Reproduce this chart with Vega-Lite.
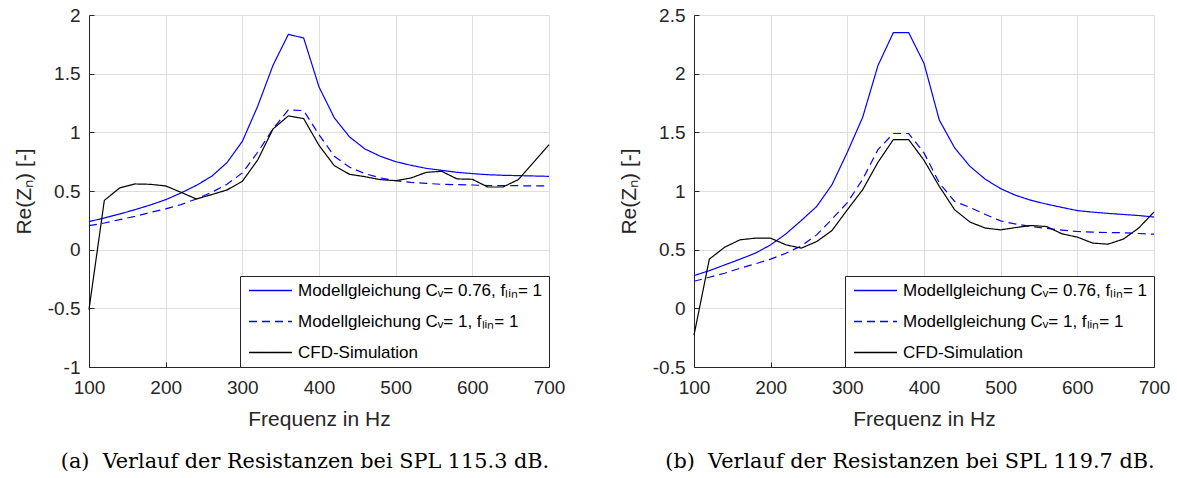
{
  "$schema": "https://vega.github.io/schema/vega-lite/v6.json",
  "background": "white",
  "padding": {"left": 13, "top": 6, "right": 0, "bottom": 0},
  "datasets": {
    "names": [
      {"s": "m076", "label": "Modellgleichung Cᵥ= 0.76, fₗᵢₙ= 1"},
      {"s": "m1", "label": "Modellgleichung Cᵥ= 1, fₗᵢₙ= 1"},
      {"s": "cfd", "label": "CFD-Simulation"}
    ],
    "a": [
      {"f": 100, "m076": 0.239, "m1": 0.205, "cfd": -0.51},
      {"f": 120, "m076": 0.270, "m1": 0.227, "cfd": 0.420},
      {"f": 140, "m076": 0.304, "m1": 0.256, "cfd": 0.526},
      {"f": 160, "m076": 0.341, "m1": 0.284, "cfd": 0.560},
      {"f": 180, "m076": 0.381, "m1": 0.318, "cfd": 0.557},
      {"f": 200, "m076": 0.426, "m1": 0.347, "cfd": 0.543},
      {"f": 220, "m076": 0.483, "m1": 0.384, "cfd": 0.489},
      {"f": 240, "m076": 0.548, "m1": 0.432, "cfd": 0.432},
      {"f": 260, "m076": 0.625, "m1": 0.489, "cfd": 0.469},
      {"f": 280, "m076": 0.742, "m1": 0.557, "cfd": 0.509},
      {"f": 300, "m076": 0.923, "m1": 0.654, "cfd": 0.582},
      {"f": 320, "m076": 1.222, "m1": 0.830, "cfd": 0.764},
      {"f": 340, "m076": 1.571, "m1": 1.029, "cfd": 1.029},
      {"f": 360, "m076": 1.835, "m1": 1.191, "cfd": 1.140},
      {"f": 380, "m076": 1.804, "m1": 1.185, "cfd": 1.117},
      {"f": 400, "m076": 1.387, "m1": 0.980, "cfd": 0.889},
      {"f": 420, "m076": 1.123, "m1": 0.796, "cfd": 0.716},
      {"f": 440, "m076": 0.960, "m1": 0.702, "cfd": 0.642},
      {"f": 460, "m076": 0.858, "m1": 0.648, "cfd": 0.622},
      {"f": 480, "m076": 0.796, "m1": 0.611, "cfd": 0.597},
      {"f": 500, "m076": 0.750, "m1": 0.588, "cfd": 0.588},
      {"f": 520, "m076": 0.719, "m1": 0.574, "cfd": 0.611},
      {"f": 540, "m076": 0.693, "m1": 0.565, "cfd": 0.659},
      {"f": 560, "m076": 0.676, "m1": 0.557, "cfd": 0.668},
      {"f": 580, "m076": 0.659, "m1": 0.554, "cfd": 0.603},
      {"f": 600, "m076": 0.648, "m1": 0.551, "cfd": 0.600},
      {"f": 620, "m076": 0.639, "m1": 0.547, "cfd": 0.534},
      {"f": 640, "m076": 0.634, "m1": 0.545, "cfd": 0.534},
      {"f": 660, "m076": 0.631, "m1": 0.545, "cfd": 0.597},
      {"f": 680, "m076": 0.628, "m1": 0.543, "cfd": 0.745},
      {"f": 700, "m076": 0.625, "m1": 0.543, "cfd": 0.895}
    ],
    "b": [
      {"f": 100, "m076": 0.279, "m1": 0.231, "cfd": -0.228},
      {"f": 120, "m076": 0.321, "m1": 0.265, "cfd": 0.419},
      {"f": 140, "m076": 0.370, "m1": 0.299, "cfd": 0.521},
      {"f": 160, "m076": 0.419, "m1": 0.342, "cfd": 0.584},
      {"f": 180, "m076": 0.470, "m1": 0.379, "cfd": 0.598},
      {"f": 200, "m076": 0.541, "m1": 0.419, "cfd": 0.598},
      {"f": 220, "m076": 0.635, "m1": 0.470, "cfd": 0.541},
      {"f": 240, "m076": 0.749, "m1": 0.532, "cfd": 0.513},
      {"f": 260, "m076": 0.868, "m1": 0.626, "cfd": 0.569},
      {"f": 280, "m076": 1.054, "m1": 0.761, "cfd": 0.663},
      {"f": 300, "m076": 1.330, "m1": 0.900, "cfd": 0.840},
      {"f": 320, "m076": 1.628, "m1": 1.100, "cfd": 1.011},
      {"f": 340, "m076": 2.070, "m1": 1.353, "cfd": 1.245},
      {"f": 360, "m076": 2.350, "m1": 1.490, "cfd": 1.438},
      {"f": 380, "m076": 2.350, "m1": 1.490, "cfd": 1.438},
      {"f": 400, "m076": 2.088, "m1": 1.325, "cfd": 1.262},
      {"f": 420, "m076": 1.604, "m1": 1.068, "cfd": 1.039},
      {"f": 440, "m076": 1.367, "m1": 0.911, "cfd": 0.840},
      {"f": 460, "m076": 1.210, "m1": 0.860, "cfd": 0.735},
      {"f": 480, "m076": 1.100, "m1": 0.800, "cfd": 0.684},
      {"f": 500, "m076": 1.020, "m1": 0.745, "cfd": 0.669},
      {"f": 520, "m076": 0.962, "m1": 0.718, "cfd": 0.689},
      {"f": 540, "m076": 0.920, "m1": 0.697, "cfd": 0.706},
      {"f": 560, "m076": 0.888, "m1": 0.681, "cfd": 0.697},
      {"f": 580, "m076": 0.860, "m1": 0.667, "cfd": 0.635},
      {"f": 600, "m076": 0.833, "m1": 0.655, "cfd": 0.607},
      {"f": 620, "m076": 0.820, "m1": 0.649, "cfd": 0.556},
      {"f": 640, "m076": 0.809, "m1": 0.646, "cfd": 0.547},
      {"f": 660, "m076": 0.800, "m1": 0.644, "cfd": 0.590},
      {"f": 680, "m076": 0.791, "m1": 0.638, "cfd": 0.684},
      {"f": 700, "m076": 0.778, "m1": 0.632, "cfd": 0.821}
    ]
  },
  "hconcat": [
    {
      "width": 460,
      "height": 352,
      "data": {"name": "a"},
      "title": {"text": "(a)\u00a0\u00a0Verlauf der Resistanzen bei SPL 115.3 dB."},
      "transform": [
        {"fold": ["m076", "m1", "cfd"], "as": ["s", "v"]},
        {"lookup": "s", "from": {"data": {"name": "names"}, "key": "s", "fields": ["label"]}}
      ],
      "mark": {"type": "line", "strokeWidth": 1.2},
      "encoding": {
        "x": {"field": "f", "type": "quantitative", "title": "Frequenz in Hz",
              "scale": {"domain": [100, 700], "nice": false},
              "axis": {"values": [100, 200, 300, 400, 500, 600, 700]}},
        "y": {"field": "v", "type": "quantitative", "title": "Re(Zₙ) [-]",
              "scale": {"domain": [-1, 2], "nice": false},
              "axis": {"values": [-1, -0.5, 0, 0.5, 1, 1.5, 2]}},
        "color": {"field": "label", "type": "nominal",
                  "scale": {"domain": ["Modellgleichung Cᵥ= 0.76, fₗᵢₙ= 1", "Modellgleichung Cᵥ= 1, fₗᵢₙ= 1", "CFD-Simulation"], "range": ["#0000ff", "#0000ff", "#000000"]}},
        "strokeDash": {"field": "label", "type": "nominal",
                  "scale": {"domain": ["Modellgleichung Cᵥ= 0.76, fₗᵢₙ= 1", "Modellgleichung Cᵥ= 1, fₗᵢₙ= 1", "CFD-Simulation"], "range": [[1, 0], [8, 5], [1, 0]]}},
        "order": {"field": "f", "type": "quantitative"}
      }
    },
    {
      "width": 460,
      "height": 352,
      "data": {"name": "b"},
      "title": {"text": "(b)\u00a0\u00a0Verlauf der Resistanzen bei SPL 119.7 dB."},
      "transform": [
        {"fold": ["m076", "m1", "cfd"], "as": ["s", "v"]},
        {"lookup": "s", "from": {"data": {"name": "names"}, "key": "s", "fields": ["label"]}}
      ],
      "mark": {"type": "line", "strokeWidth": 1.2},
      "encoding": {
        "x": {"field": "f", "type": "quantitative", "title": "Frequenz in Hz",
              "scale": {"domain": [100, 700], "nice": false},
              "axis": {"values": [100, 200, 300, 400, 500, 600, 700]}},
        "y": {"field": "v", "type": "quantitative", "title": "Re(Zₙ) [-]",
              "scale": {"domain": [-0.5, 2.5], "nice": false},
              "axis": {"values": [-0.5, 0, 0.5, 1, 1.5, 2, 2.5]}},
        "color": {"field": "label", "type": "nominal",
                  "scale": {"domain": ["Modellgleichung Cᵥ= 0.76, fₗᵢₙ= 1", "Modellgleichung Cᵥ= 1, fₗᵢₙ= 1", "CFD-Simulation"], "range": ["#0000ff", "#0000ff", "#000000"]}},
        "strokeDash": {"field": "label", "type": "nominal",
                  "scale": {"domain": ["Modellgleichung Cᵥ= 0.76, fₗᵢₙ= 1", "Modellgleichung Cᵥ= 1, fₗᵢₙ= 1", "CFD-Simulation"], "range": [[1, 0], [8, 5], [1, 0]]}},
        "order": {"field": "f", "type": "quantitative"}
      }
    }
  ],
  "spacing": 53,
  "resolve": {
    "scale": {"x": "independent", "y": "independent", "color": "independent", "strokeDash": "independent"},
    "legend": {"color": "independent", "strokeDash": "independent"}
  },
  "config": {
    "view": {"stroke": null},
    "axis": {
      "labelFont": "Liberation Sans", "titleFont": "Liberation Sans",
      "labelFontSize": 19, "titleFontSize": 21, "titleFontWeight": "normal",
      "labelColor": "#262626", "titleColor": "#262626",
      "domainColor": "#262626", "tickColor": "#262626", "domainWidth": 1,
      "gridColor": "#dedede", "gridWidth": 1,
      "tickSize": -5,
      "labelFlush": false, "labelOverlap": false,
      "labelExpr": "datum.value + ''"
    },
    "axisY": {"titlePadding": 13, "labelPadding": 14},
    "axisX": {"titlePadding": 11, "labelPadding": 16},
    "legend": {
      "orient": "bottom-right", "offset": 0, "title": null,
      "strokeColor": "#262626", "fillColor": "white", "padding": 6,
      "labelFont": "Liberation Sans", "labelFontSize": 17, "labelColor": "black",
      "symbolType": "M-3,0H3", "symbolSize": 205, "symbolStrokeWidth": 1.6,
      "symbolOffset": 16, "symbolOpacity": 1,
      "labelOffset": 19, "rowPadding": 13,
      "labelLimit": 400
    },
    "title": {
      "orient": "bottom", "anchor": "middle", "frame": "group",
      "font": "DejaVu Serif", "fontSize": 20.8, "fontWeight": "normal",
      "color": "black", "offset": 23, "dx": -14
    }
  }
}
